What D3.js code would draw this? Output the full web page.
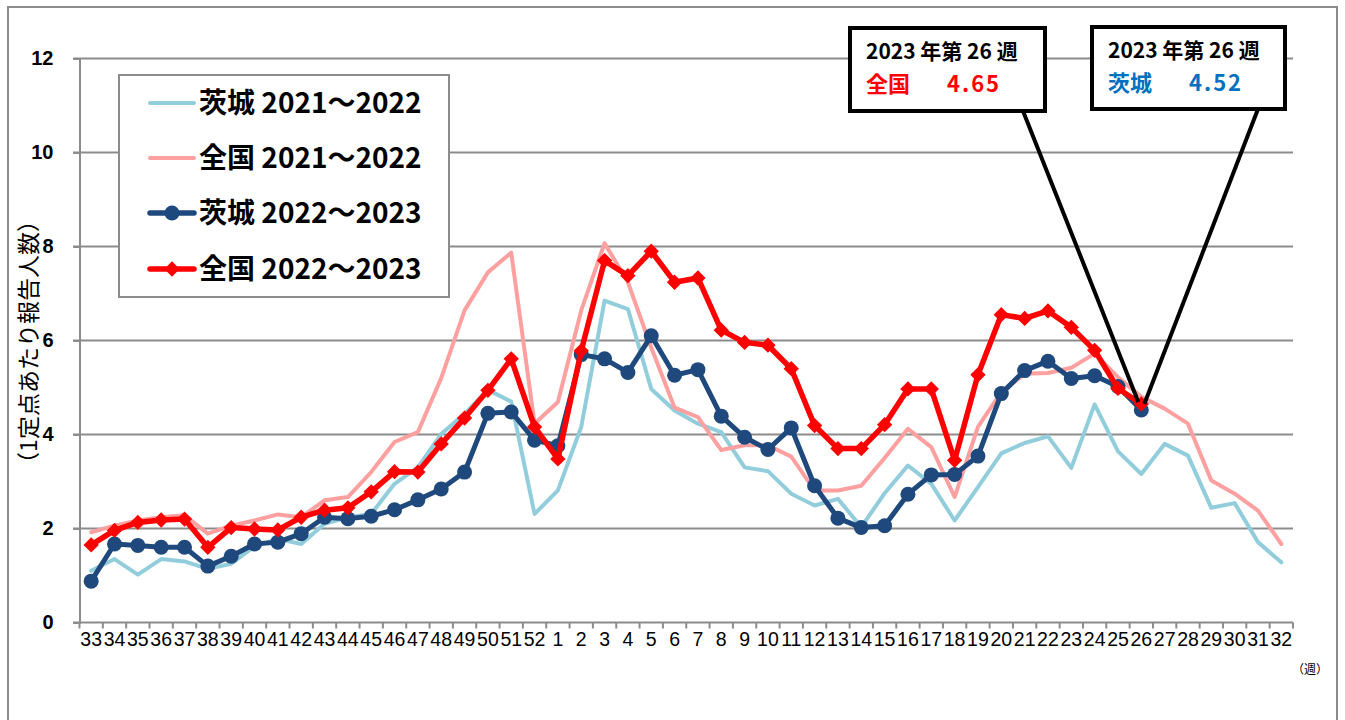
<!DOCTYPE html>
<html>
<head>
<meta charset="utf-8">
<script src="https://cdn.jsdelivr.net/npm/d3@7"></script>
<style>
  body { margin: 0; background: #fff; }
  svg { display: block; }
</style>
</head>
<body>
<svg id="chart" width="1345" height="720"></svg>
<script>
// weeks on the x axis: 33..52 then 1..32
var weeks = ['33','34','35','36','37','38','39','40','41','42','43','44','45','46','47','48','49','50','51','52',
    '1','2','3','4','5','6','7','8','9','10','11','12','13','14','15','16','17','18','19','20',
    '21','22','23','24','25','26','27','28','29','30','31','32'];

var ibaraki2122 = [1.10, 1.35, 1.02, 1.35, 1.30, 1.14, 1.25, 1.62, 1.78, 1.67, 2.10, 2.24, 2.31, 2.95, 3.30, 4.01, 4.44, 4.95, 4.70, 2.31,
    2.81, 4.16, 6.85, 6.67, 4.97, 4.51, 4.23, 4.05, 3.30, 3.22, 2.74, 2.49, 2.63, 2.03, 2.75, 3.34, 2.95, 2.17, 2.88, 3.60,
    3.82, 3.96, 3.29, 4.64, 3.64, 3.16, 3.80, 3.55, 2.44, 2.54, 1.71, 1.28];

var zenkoku2122 = [1.92, 2.06, 2.17, 2.24, 2.28, 1.89, 2.06, 2.17, 2.30, 2.24, 2.60, 2.67, 3.20, 3.84, 4.05, 5.20, 6.64, 7.45, 7.87, 4.23,
    4.69, 6.64, 8.07, 7.24, 5.85, 4.57, 4.37, 3.67, 3.77, 3.77, 3.53, 2.81, 2.81, 2.91, 3.50, 4.12, 3.73, 2.67, 4.16, 4.90,
    5.29, 5.31, 5.42, 5.72, 5.22, 4.80, 4.55, 4.23, 3.02, 2.74, 2.38, 1.67];

var ibaraki2223 = [0.88, 1.67, 1.64, 1.60, 1.60, 1.20, 1.41, 1.67, 1.71, 1.89, 2.24, 2.21, 2.26, 2.40, 2.61, 2.84, 3.20, 4.45, 4.48, 3.88,
    3.76, 5.70, 5.61, 5.32, 6.10, 5.26, 5.38, 4.39, 3.94, 3.68, 4.14, 2.91, 2.22, 2.02, 2.06, 2.73, 3.14, 3.15, 3.54, 4.87,
    5.36, 5.56, 5.19, 5.25, 5.02, 4.52];

var zenkoku2223 = [1.65, 1.96, 2.13, 2.18, 2.20, 1.60, 2.02, 1.99, 1.97, 2.24, 2.39, 2.44, 2.78, 3.21, 3.20, 3.80, 4.35, 4.94, 5.61, 4.16,
    3.48, 5.78, 7.70, 7.38, 7.90, 7.24, 7.33, 6.22, 5.96, 5.90, 5.40, 4.19, 3.70, 3.70, 4.21, 4.97, 4.97, 3.45, 5.27, 6.55,
    6.47, 6.63, 6.28, 5.79, 4.98, 4.65];

var yTicks = [0, 2, 4, 6, 8, 10, 12];
var seriesNames = ['茨城 2021～2022', '全国 2021～2022', '茨城 2022～2023', '全国 2022～2023'];
var seriesColors = ['#92cddc', '#ffa0a0', '#1f497d', '#ff0000'];
var calloutWeek = '26';
var calloutTitle = '2023 年第 26 週';

var gridColor = '#8c8c8c';
var numFont = '"Liberation Sans", Arial, sans-serif';
var jpFont = '"Noto Sans CJK JP", "Noto Sans", sans-serif';

var svg = d3.select('#chart');

svg.append('rect').attr('width', 1345).attr('height', 720).attr('fill', '#fff');
// outer frame (bottom edge falls off the picture)
svg.append('rect')
    .attr('x', 8).attr('y', 7).attr('width', 1329).attr('height', 730)
    .attr('fill', 'none').attr('stroke', gridColor).attr('stroke-width', 2);

var x = d3.scaleBand().domain(weeks).range([79.5, 1293]).padding(0);
var y = d3.scaleLinear().domain([0, 12]).range([622.5, 58.5]);
var cx = w => x(w) + x.bandwidth() / 2;

// gridlines
svg.append('g')
    .selectAll('line')
    .data(yTicks.filter(d => d > 0))
    .enter().append('line')
        .attr('x1', 73).attr('x2', 1293)
        .attr('y1', d => y(d)).attr('y2', d => y(d))
        .attr('stroke', gridColor).attr('stroke-width', 2);

// y axis
var yAxis = svg.append('g')
    .attr('transform', 'translate(' + x.range()[0] + ',0)')
    .call(d3.axisLeft(y).tickValues(yTicks).tickSize(6).tickPadding(20));
yAxis.select('.domain').attr('stroke', gridColor).attr('stroke-width', 2);
yAxis.selectAll('.tick line').attr('stroke', gridColor).attr('stroke-width', 2);
yAxis.selectAll('.tick text')
    .attr('font-family', numFont).attr('font-size', 20).attr('font-weight', 'bold')
    .attr('fill', '#000');

// x axis, ticks sit between categories like the original
var xAxis = svg.append('g')
    .attr('transform', 'translate(0,' + y(0) + ')')
    .call(d3.axisBottom(x).tickSize(0).tickPadding(20));
xAxis.select('.domain').remove();
xAxis.selectAll('.tick text')
    .attr('font-family', numFont).attr('font-size', 19.5)
    .attr('fill', '#000').attr('dy', '0.2em');
xAxis.append('line')
    .attr('x1', 73).attr('x2', 1293)
    .attr('stroke', gridColor).attr('stroke-width', 2);
xAxis.selectAll('line.bound')
    .data(weeks.map(w => x(w)).concat([x.range()[1]]))
    .enter().append('line')
        .attr('class', 'bound')
        .attr('x1', d => d).attr('x2', d => d)
        .attr('y1', 0).attr('y2', 6)
        .attr('stroke', gridColor).attr('stroke-width', 2);

svg.append('text')
    .attr('x', 1310).attr('y', 674)
    .attr('text-anchor', 'middle')
    .attr('font-family', jpFont).attr('font-size', 12)
    .text('（週）');

// y title
svg.append('text')
    .attr('transform', 'translate(37,342) rotate(-90)')
    .attr('text-anchor', 'middle')
    .attr('font-family', jpFont).attr('font-size', 23)
    .text('（1定点あたり報告人数）');

// lines
var line = d3.line()
    .x((d, i) => cx(weeks[i]))
    .y(d => y(d));

var allSeries = [ibaraki2122, zenkoku2122, ibaraki2223, zenkoku2223];
var widths = [4, 4, 5, 5.5];

var plot = svg.append('g');
allSeries.forEach((vals, k) => {
    plot.append('path')
        .datum(vals)
        .attr('d', line)
        .attr('fill', 'none')
        .attr('stroke', seriesColors[k])
        .attr('stroke-width', widths[k])
        .attr('stroke-linejoin', 'round')
        .attr('stroke-linecap', 'round');
    if (k === 2) {
        plot.selectAll('circle.m' + k)
            .data(vals)
            .enter().append('circle')
                .attr('class', 'm' + k)
                .attr('cx', (d, i) => cx(weeks[i]))
                .attr('cy', d => y(d))
                .attr('r', 7.5)
                .attr('fill', seriesColors[k]);
    }
    if (k === 3) {
        plot.selectAll('path.m' + k)
            .data(vals)
            .enter().append('path')
                .attr('class', 'm' + k)
                .attr('d', d3.symbol().type(d3.symbolDiamond2).size(150))
                .attr('transform', (d, i) => 'translate(' + cx(weeks[i]) + ',' + y(d) + ')')
                .attr('fill', seriesColors[k]);
    }
});

// legend
var legend = svg.append('g');
legend.append('rect')
    .attr('x', 119).attr('y', 75).attr('width', 330).attr('height', 222)
    .attr('fill', '#fff').attr('stroke', gridColor).attr('stroke-width', 2);
var rowY = [103, 158, 213, 269];
seriesNames.forEach((name, k) => {
    var ly = rowY[k];
    legend.append('line')
        .attr('x1', 150).attr('x2', 194)
        .attr('y1', ly).attr('y2', ly)
        .attr('stroke', seriesColors[k]).attr('stroke-width', k < 2 ? 4 : 5.5)
        .attr('stroke-linecap', 'round');
    if (k === 2) {
        legend.append('circle').attr('cx', 172).attr('cy', ly).attr('r', 7.5).attr('fill', seriesColors[k]);
    }
    if (k === 3) {
        legend.append('path')
            .attr('d', d3.symbol().type(d3.symbolDiamond2).size(150))
            .attr('transform', 'translate(172,' + ly + ')')
            .attr('fill', seriesColors[k]);
    }
    legend.append('text')
        .attr('x', 199).attr('y', ly)
        .attr('dy', '0.36em')
        .attr('font-family', jpFont).attr('font-size', 28).attr('font-weight', 'bold')
        .text(name);
});

// callouts for week 26
var iLast = weeks.indexOf(calloutWeek);
var callouts = [
    { box: [850, 28, 195, 83], tip: [1023, 111], label: '全国', value: zenkoku2223[iLast], color: '#ff0000', end: [cx(calloutWeek) - 3, y(zenkoku2223[iLast]) - 2] },
    { box: [1092, 27, 193, 82], tip: [1258, 109], label: '茨城', value: ibaraki2223[iLast], color: '#0070c0', end: [cx(calloutWeek) + 3, y(ibaraki2223[iLast]) - 6] }
];
callouts.forEach(c => {
    svg.append('line')
        .attr('x1', c.tip[0]).attr('y1', c.tip[1])
        .attr('x2', c.end[0]).attr('y2', c.end[1])
        .attr('stroke', '#000').attr('stroke-width', 4);
    svg.append('rect')
        .attr('x', c.box[0]).attr('y', c.box[1]).attr('width', c.box[2]).attr('height', c.box[3])
        .attr('fill', '#fff').attr('stroke', '#000').attr('stroke-width', 4);
    svg.append('text')
        .attr('x', c.box[0] + 16).attr('y', c.box[1] + 31)
        .attr('font-family', jpFont).attr('font-size', 21).attr('font-weight', 'bold')
        .text(calloutTitle);
    var t = svg.append('text')
        .attr('y', c.box[1] + 64)
        .attr('font-family', jpFont).attr('font-size', 22).attr('font-weight', 'bold')
        .attr('fill', c.color);
    t.append('tspan').attr('x', c.box[0] + 16).text(c.label);
    t.append('tspan').attr('x', c.box[0] + 97).attr('letter-spacing', 2).text(c.value.toFixed(2));
});
</script>
</body>
</html>
